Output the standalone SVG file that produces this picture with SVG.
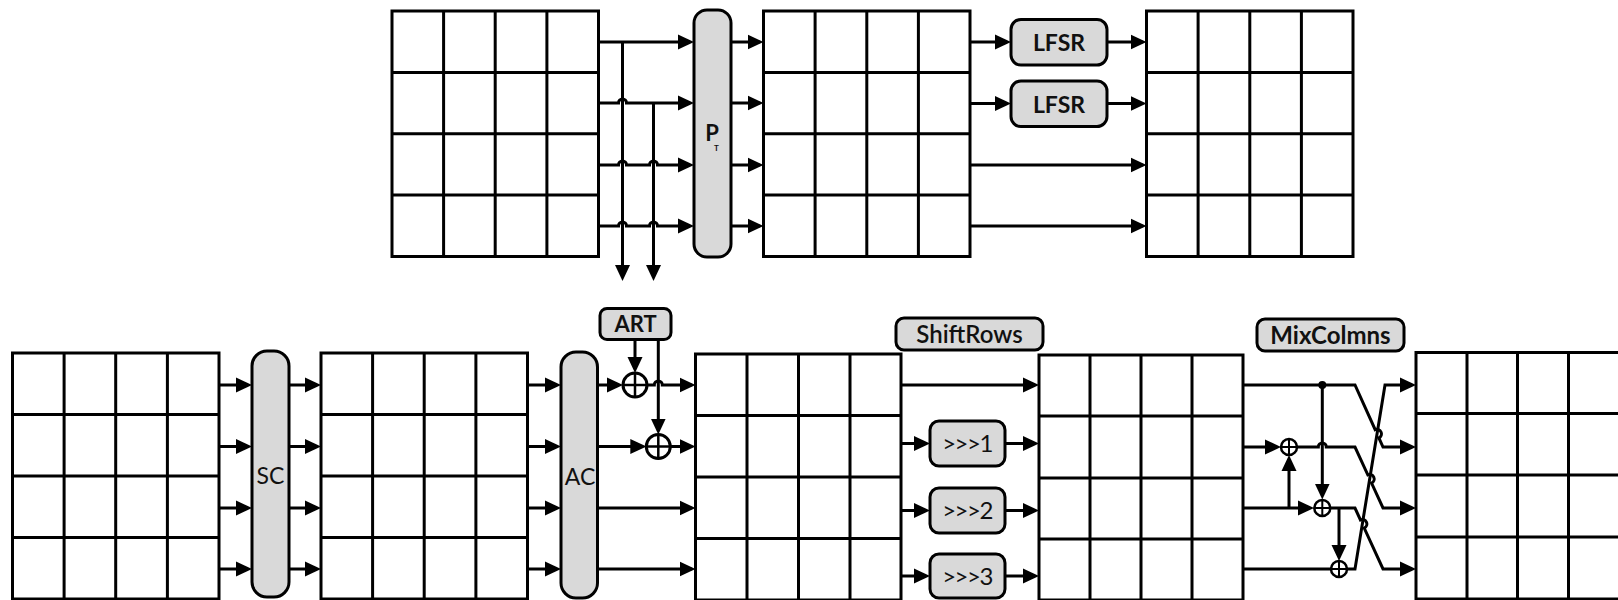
<svg xmlns="http://www.w3.org/2000/svg" width="1618" height="600" viewBox="0 0 1618 600">
<defs>
<marker id="ah" markerWidth="16" markerHeight="16" refX="12" refY="8" orient="auto" markerUnits="userSpaceOnUse"><path d="M0,0.5 L16,8 L0,15.5 Z" fill="#000"/></marker>
<style>
.grid rect{fill:#fff;stroke:#000;stroke-width:3}
.grid path{fill:none;stroke:#000;stroke-width:3}
.box{fill:#d9d9d9;stroke:#000;stroke-width:3}
.w{fill:none;stroke:#000;stroke-width:3}
.a{marker-end:url(#ah)}
.x circle{fill:#fff;stroke:#000;stroke-width:3}
.x path{fill:none;stroke:#000;stroke-width:2.5}
.xs circle{fill:#fff;stroke:#000;stroke-width:2.5}
.xs path{fill:none;stroke:#000;stroke-width:2}
text{font-family:Lato,"Liberation Sans",sans-serif;fill:#111;text-anchor:middle}
.b{font-weight:bold}
.sh{font-size:24px;letter-spacing:-1.5px}
</style>
</defs>
<rect width="1618" height="600" fill="#fff"/>

<!-- top row grids -->
<g id="gridA" class="grid"><rect x="392" y="11" width="206.5" height="245.5"/><path d="M443.6,11V256.5M495.2,11V256.5M546.9,11V256.5M392,72.4H598.5M392,133.8H598.5M392,195.1H598.5"/></g>
<g id="gridB" class="grid"><rect x="763.5" y="11" width="206.5" height="245.5"/><path d="M815.1,11V256.5M866.8,11V256.5M918.4,11V256.5M763.5,72.4H970M763.5,133.8H970M763.5,195.1H970"/></g>
<g id="gridC" class="grid"><rect x="1146.5" y="11" width="206.5" height="245.5"/><path d="M1198.1,11V256.5M1249.8,11V256.5M1301.4,11V256.5M1146.5,72.4H1353M1146.5,133.8H1353M1146.5,195.1H1353"/></g>

<g id="PT"><rect class="box" x="694" y="10" width="37" height="247" rx="13"/><text class="b" x="712" y="141" font-size="22">P</text><text class="b" x="716.5" y="151" font-size="8">T</text></g>
<g id="LFSR1"><rect class="box" x="1011" y="19.5" width="96" height="45.5" rx="10"/><text class="b" x="1059" y="51" font-size="23">LFSR</text></g>
<g id="LFSR2"><rect class="box" x="1011" y="81" width="96" height="45.5" rx="10"/><text class="b" x="1059" y="112.5" font-size="23">LFSR</text></g>

<!-- bottom row grids -->
<g id="gridD" class="grid"><rect x="12.5" y="353" width="206.5" height="246"/><path d="M64.1,353V599M115.7,353V599M167.4,353V599M12.5,414.5H219M12.5,476H219M12.5,537.5H219"/></g>
<g id="gridE" class="grid"><rect x="321" y="353" width="206.5" height="246"/><path d="M372.6,353V599M424.2,353V599M475.9,353V599M321,414.5H527.5M321,476H527.5M321,537.5H527.5"/></g>
<g id="gridF" class="grid"><rect x="695.5" y="354" width="205.5" height="246"/><path d="M747,354V600M798.5,354V600M850,354V600M695.5,415.5H901M695.5,477H901M695.5,538.5H901"/></g>
<g id="gridG" class="grid"><rect x="1039" y="355" width="204" height="245"/><path d="M1090,355V600M1141,355V600M1192,355V600M1039,416H1243M1039,478H1243M1039,539H1243"/></g>
<g id="gridH" class="grid"><rect x="1416" y="352.5" width="204" height="246.5"/><path d="M1467,352.5V599M1517.5,352.5V599M1568.5,352.5V599M1416,413.5H1620M1416,475H1620M1416,537H1620"/></g>

<g id="SC"><rect class="box" x="252" y="351" width="37" height="246" rx="15"/><text x="270.5" y="484" font-size="23">SC</text></g>
<g id="AC"><rect class="box" x="561" y="352" width="36.5" height="246" rx="15"/><text x="580" y="485" font-size="23">AC</text></g>
<g id="ART"><rect class="box" x="600" y="308.5" width="71" height="31" rx="7"/><text class="b" x="635.5" y="332" font-size="22">ART</text></g>
<g id="xor1" class="x"><circle cx="635" cy="385" r="12"/><path d="M623,385H647M635,373V397"/></g>
<g id="xor2" class="x"><circle cx="658.3" cy="446.5" r="12"/><path d="M646.3,446.5H670.3M658.3,434.5V458.5"/></g>

<g id="ShiftRows"><rect class="box" x="896" y="318" width="147" height="32" rx="8"/><text x="969.5" y="343" font-size="24" font-weight="600">ShiftRows</text></g>
<g id="shift1"><rect class="box" x="930" y="421" width="75" height="45" rx="9"/><text class="sh" x="967" y="452">&gt;&gt;&gt;1</text></g>
<g id="shift2"><rect class="box" x="930" y="488" width="75" height="45" rx="9"/><text class="sh" x="967" y="519">&gt;&gt;&gt;2</text></g>
<g id="shift3"><rect class="box" x="930" y="554" width="75" height="44" rx="9"/><text class="sh" x="967" y="585">&gt;&gt;&gt;3</text></g>

<g id="MixColmns"><rect class="box" x="1257" y="319" width="147" height="32" rx="8"/><text class="b" x="1330.5" y="344" font-size="24">MixColmns</text></g>
<g id="mxor2" class="xs"><circle cx="1289" cy="447" r="8"/><path d="M1281,447H1297M1289,439V455"/></g>
<g id="mxor3" class="xs"><circle cx="1322.3" cy="508" r="8"/><path d="M1314.3,508H1330.3M1322.3,500V516"/></g>
<g id="mxor4" class="xs"><circle cx="1339" cy="569" r="8"/><path d="M1331,569H1347M1339,561V577"/></g>

<g id="connectors">
<!-- top -->
<path class="w a" d="M598.5,42H690"/>
<path class="w a" d="M598.5,103H618.5A4,4 0 0 1 626.5,103H690"/>
<path class="w a" d="M598.5,165H618.5A4,4 0 0 1 626.5,165H649.5A4,4 0 0 1 657.5,165H690"/>
<path class="w a" d="M598.5,226H618.5A4,4 0 0 1 626.5,226H649.5A4,4 0 0 1 657.5,226H690"/>
<path class="w a" d="M622.5,42V277"/>
<path class="w a" d="M653.5,103V277"/>
<path class="w a" d="M731,42H759.5"/>
<path class="w a" d="M731,103H759.5"/>
<path class="w a" d="M731,165H759.5"/>
<path class="w a" d="M731,226H759.5"/>
<path class="w a" d="M970,42H1007"/>
<path class="w a" d="M1107,42H1142.5"/>
<path class="w a" d="M970,103.5H1007"/>
<path class="w a" d="M1107,103.5H1142.5"/>
<path class="w a" d="M970,165H1142.5"/>
<path class="w a" d="M970,226H1142.5"/>
<!-- bottom: SC -->
<path class="w a" d="M219,385H248"/>
<path class="w a" d="M219,446.5H248"/>
<path class="w a" d="M219,508H248"/>
<path class="w a" d="M219,569H248"/>
<path class="w a" d="M289,385H317"/>
<path class="w a" d="M289,446.5H317"/>
<path class="w a" d="M289,508H317"/>
<path class="w a" d="M289,569H317"/>
<!-- AC -->
<path class="w a" d="M527.5,385H557"/>
<path class="w a" d="M527.5,446.5H557"/>
<path class="w a" d="M527.5,508H557"/>
<path class="w a" d="M527.5,569H557"/>
<path class="w a" d="M597.5,385H619"/>
<path class="w a" d="M647,385H654.3A4,4 0 0 1 662.3,385H691.5"/>
<path class="w a" d="M635,339.5V369"/>
<path class="w a" d="M658.3,339.5V430.5"/>
<path class="w a" d="M597.5,446.5H642.3"/>
<path class="w a" d="M670.3,446.5H691.5"/>
<path class="w a" d="M597.5,508H691.5"/>
<path class="w a" d="M597.5,569H691.5"/>
<!-- ShiftRows -->
<path class="w a" d="M901,385H1035"/>
<path class="w a" d="M901,443.5H926"/>
<path class="w a" d="M1005,443.5H1035"/>
<path class="w a" d="M901,510.5H926"/>
<path class="w a" d="M1005,510.5H1035"/>
<path class="w a" d="M901,576H926"/>
<path class="w a" d="M1005,576H1035"/>
<!-- MixColmns -->
<path class="w a" d="M1243,385H1355L1375.19,429.7A4.5,4.5 0 0 1 1378.89,437.9L1383,447H1412"/>
<circle cx="1322.3" cy="385" r="4" fill="#000"/>
<path class="w a" d="M1322.3,385V495.5"/>
<path class="w a" d="M1243,447H1277"/>
<path class="w a" d="M1297,447H1318.3A4,4 0 0 1 1326.3,447H1355L1367.8,474.88A4.5,4.5 0 0 1 1371.56,483.06L1383,508H1412"/>
<path class="w a" d="M1243,508H1310"/>
<path class="w a" d="M1289,508V459"/>
<path class="w a" d="M1330.3,508H1355L1360.46,519.9A4.5,4.5 0 0 1 1364.22,528.08L1383,569H1412"/>
<path class="w a" d="M1339,508V557"/>
<path class="w" d="M1243,569H1331"/>
<path class="w a" d="M1347,569H1355L1385,385H1412"/>
</g>
</svg>
